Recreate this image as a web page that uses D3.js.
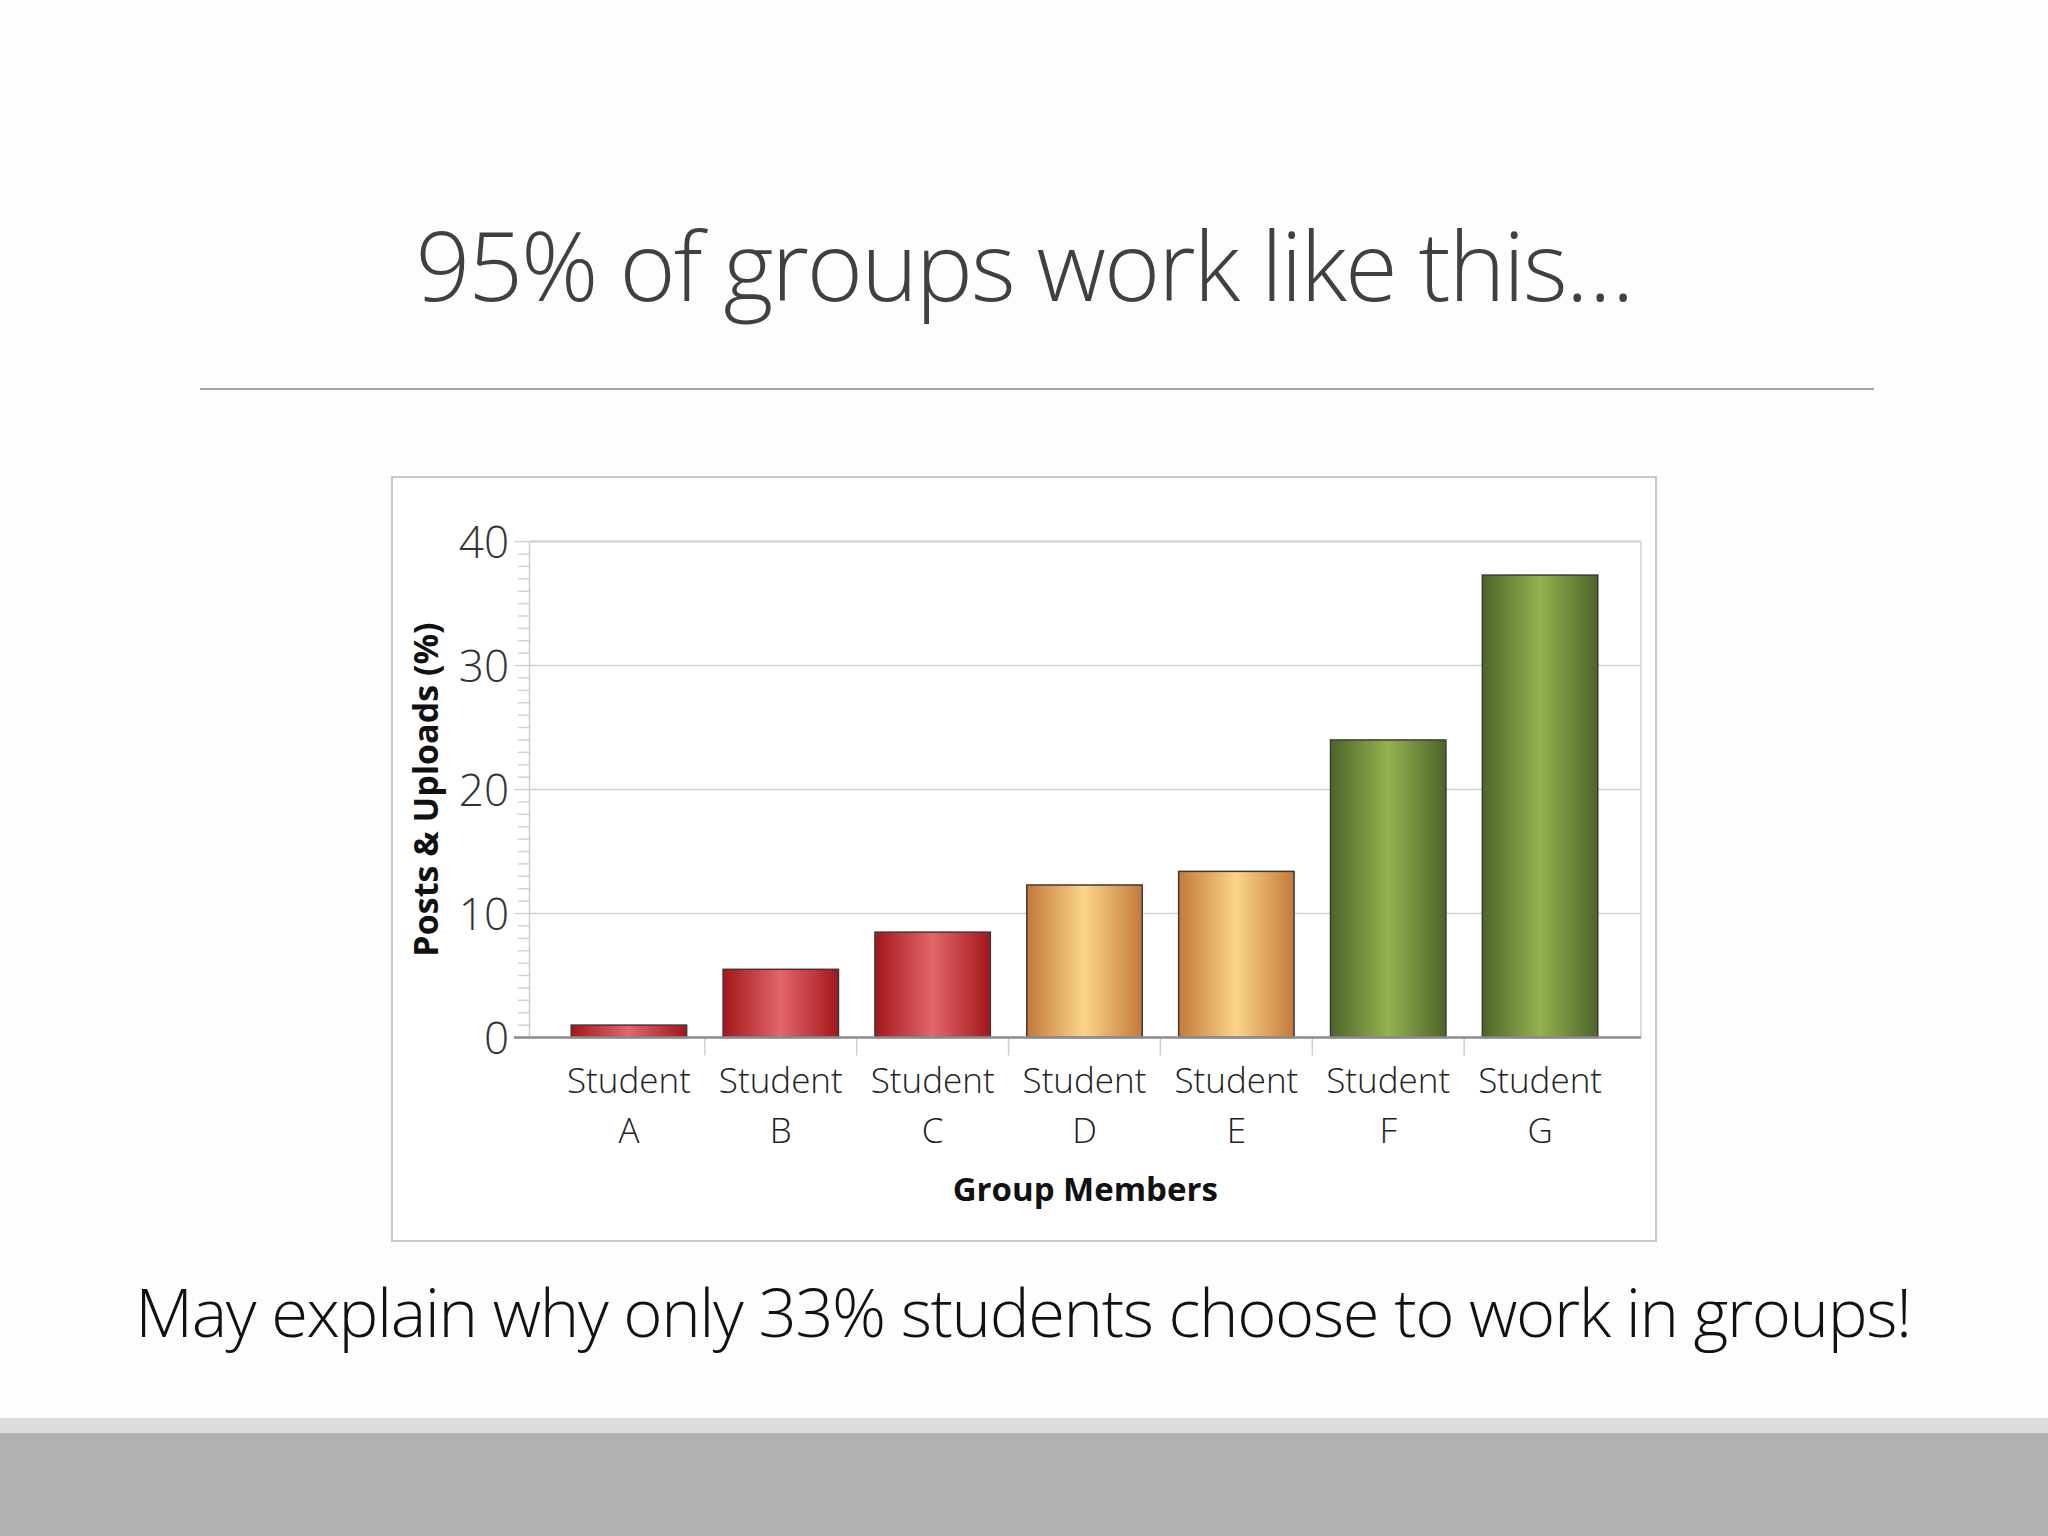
<!DOCTYPE html>
<html>
<head>
<meta charset="utf-8">
<script src="https://cdn.jsdelivr.net/npm/d3@7"></script>
<style>
  html, body { margin: 0; padding: 0; background: #fdfdfd; }
  svg { display: block; }
</style>
</head>
<body>
<div class="slide"></div>
<script>
// chart data
const students = ["A", "B", "C", "D", "E", "F", "G"];
const shares = [1, 5.5, 8.5, 12.3, 13.4, 24, 37.3];
const tiers = ["low", "low", "low", "mid", "mid", "high", "high"];
const yTicks = [0, 10, 20, 30, 40];

const slideTitle = "95% of groups work like this…";
const slideNote = "May explain why only 33% students choose to work in groups!";

// gradient stops for each tier: edge, centre
const tierColors = {
  low: ["#a3171b", "#e2666a"],
  mid: ["#c4793a", "#fbd587"],
  high: ["#4d652a", "#93b250"]
};

const W = 2048, H = 1536;
const svg = d3.select(".slide").append("svg")
  .attr("width", W)
  .attr("height", H);

// slide background + footer band
svg.append("rect").attr("width", W).attr("height", H).attr("fill", "#fdfdfd");
svg.append("rect").attr("x", 0).attr("y", 1418).attr("width", W).attr("height", 15).attr("fill", "#dddddd");
svg.append("rect").attr("x", 0).attr("y", 1433).attr("width", W).attr("height", H - 1433).attr("fill", "#b1b1b2");

// title and rule
svg.append("text")
  .attr("x", 1024).attr("y", 301)
  .attr("text-anchor", "middle")
  .style("font-family", "'Open Sans', sans-serif")
  .style("font-weight", 300)
  .style("font-size", "96px")
  .style("letter-spacing", "-2px")
  .style("fill", "#404040")
  .text(slideTitle);

svg.append("line")
  .attr("x1", 200).attr("x2", 1874)
  .attr("y1", 389).attr("y2", 389)
  .attr("stroke", "#a3a3a3").attr("stroke-width", 2);

// chart frame
svg.append("rect")
  .attr("x", 392).attr("y", 477)
  .attr("width", 1264).attr("height", 764)
  .attr("fill", "#ffffff")
  .attr("stroke", "#c9c9c9").attr("stroke-width", 2);

// scales
const plotLeft = 529.5, plotRight = 1641;
const x = d3.scaleBand()
  .domain(students)
  .range([553, 1616])
  .paddingInner(0.24)
  .paddingOuter(0.12);
const y = d3.scaleLinear().domain([0, 40]).range([1037.5, 541.6]);

// gradients
const defs = svg.append("defs");
Object.entries(tierColors).forEach(([tier, [edge, mid]]) => {
  const g = defs.append("linearGradient")
    .attr("id", "grad-" + tier)
    .attr("x1", "0%").attr("x2", "100%")
    .attr("y1", "0%").attr("y2", "0%");
  g.append("stop").attr("offset", "0%").attr("stop-color", edge);
  g.append("stop").attr("offset", "50%").attr("stop-color", mid);
  g.append("stop").attr("offset", "100%").attr("stop-color", edge);
});

// minor y ticks, every unit
const minor = d3.range(0, 41, 1);
svg.append("g").selectAll("line")
  .data(minor)
  .enter().append("line")
  .attr("x1", d => d % 10 === 0 ? 514 : 518)
  .attr("x2", plotLeft)
  .attr("y1", d => y(d)).attr("y2", d => y(d))
  .attr("stroke", "#d2d2d2").attr("stroke-width", 1.5);

// gridlines
svg.append("g").selectAll("line")
  .data(yTicks.filter(d => d > 0))
  .enter().append("line")
  .attr("x1", plotLeft).attr("x2", plotRight)
  .attr("y1", d => y(d)).attr("y2", d => y(d))
  .attr("stroke", d => d === 40 ? "#dcdcdc" : "#d0d0d0")
  .attr("stroke-width", d => d === 40 ? 3 : 1.5);

// plot frame left / right
svg.append("line")
  .attr("x1", plotLeft).attr("x2", plotLeft)
  .attr("y1", y(40)).attr("y2", y(0))
  .attr("stroke", "#d0d0d0").attr("stroke-width", 1.5);
svg.append("line")
  .attr("x1", plotRight).attr("x2", plotRight)
  .attr("y1", y(40)).attr("y2", y(0))
  .attr("stroke", "#dcdcdc").attr("stroke-width", 2);

// y tick labels
svg.append("g").selectAll("text")
  .data(yTicks)
  .enter().append("text")
  .attr("x", 509)
  .attr("y", d => y(d) + 16)
  .attr("text-anchor", "end")
  .style("font-family", "'Open Sans', sans-serif")
  .style("font-weight", 300)
  .style("font-size", "44px")
  .style("fill", "#333333")
  .text(d => d);

// y axis title
svg.append("text")
  .attr("transform", "translate(438," + ((y(0) + y(40)) / 2) + ") rotate(-90)")
  .attr("text-anchor", "middle")
  .style("font-family", "'Open Sans', sans-serif")
  .style("font-weight", 700)
  .style("font-size", "34px")
  .style("fill", "#111111")
  .text("Posts & Uploads (%)");

// bars
svg.append("g").selectAll("rect")
  .data(students)
  .enter().append("rect")
  .attr("x", d => x(d))
  .attr("y", (d, i) => y(shares[i]))
  .attr("width", x.bandwidth())
  .attr("height", (d, i) => y(0) - y(shares[i]))
  .attr("fill", (d, i) => "url(#grad-" + tiers[i] + ")")
  .attr("stroke", "#3a3a3a")
  .attr("stroke-width", 1.5);

// category separator ticks
const step = x.step();
svg.append("g").selectAll("line")
  .data(students.slice(1))
  .enter().append("line")
  .attr("x1", d => x(d) - (step - x.bandwidth()) / 2)
  .attr("x2", d => x(d) - (step - x.bandwidth()) / 2)
  .attr("y1", y(0)).attr("y2", y(0) + 18)
  .attr("stroke", "#cfcfcf").attr("stroke-width", 1.5);

// zero axis
svg.append("line")
  .attr("x1", 514).attr("x2", plotRight)
  .attr("y1", y(0)).attr("y2", y(0))
  .attr("stroke", "#8c8c8c").attr("stroke-width", 2.5);

// x labels
const xl = svg.append("g").selectAll("g")
  .data(students)
  .enter().append("g")
  .attr("transform", d => "translate(" + (x(d) + x.bandwidth() / 2) + ",0)");
xl.append("text")
  .attr("y", 1093)
  .attr("text-anchor", "middle")
  .style("font-family", "'Open Sans', sans-serif")
  .style("font-weight", 300)
  .style("font-size", "35px")
  .style("fill", "#222222")
  .text("Student");
xl.append("text")
  .attr("y", 1143)
  .attr("text-anchor", "middle")
  .style("font-family", "'Open Sans', sans-serif")
  .style("font-weight", 300)
  .style("font-size", "35px")
  .style("fill", "#222222")
  .text(d => d);

// x axis title
svg.append("text")
  .attr("x", (plotLeft + plotRight) / 2)
  .attr("y", 1201)
  .attr("text-anchor", "middle")
  .style("font-family", "'Open Sans', sans-serif")
  .style("font-weight", 700)
  .style("font-size", "33px")
  .style("fill", "#111111")
  .text("Group Members");

// footnote
svg.append("text")
  .attr("x", 1023).attr("y", 1337)
  .attr("text-anchor", "middle")
  .style("font-family", "'Open Sans', sans-serif")
  .style("font-weight", 300)
  .style("font-size", "67px")
  .style("letter-spacing", "-1.4px")
  .style("fill", "#111111")
  .text(slideNote);
</script>
</body>
</html>
